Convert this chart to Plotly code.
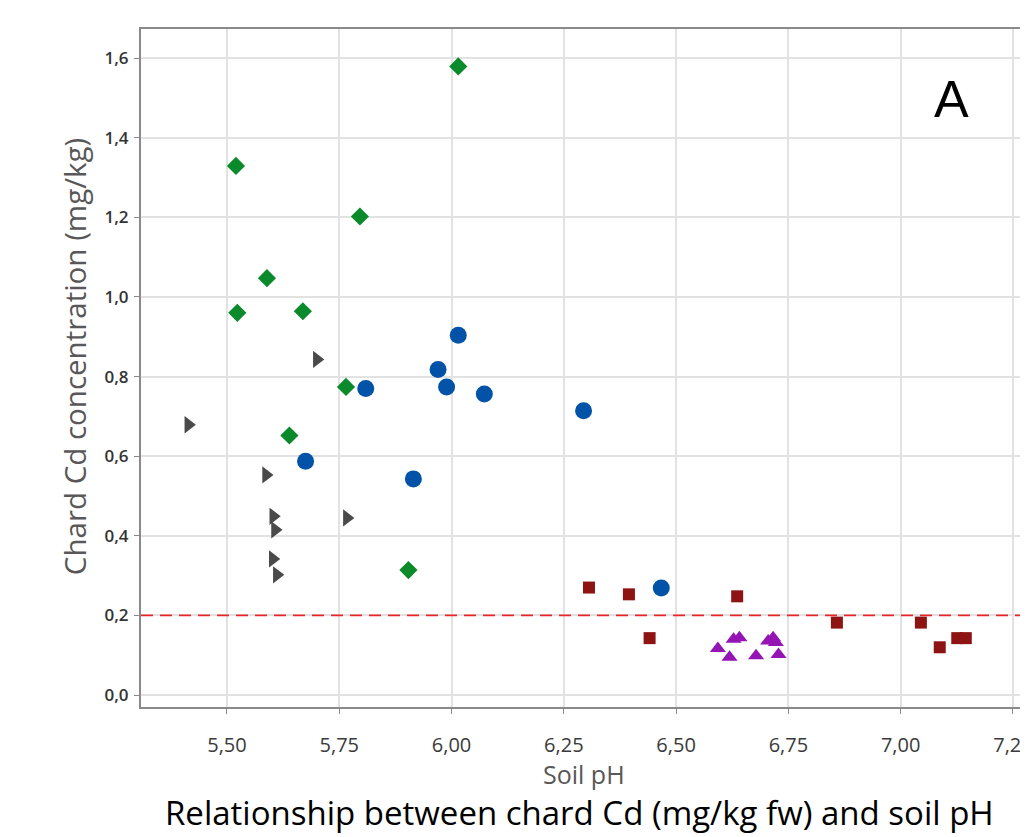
import plotly.graph_objects as go

# ---- data (soil pH, chard Cd mg/kg) ----
green_ph = [6.015, 5.520, 5.796, 5.589, 5.523, 5.669, 5.765, 5.639, 5.904]
green_cd = [1.579, 1.329, 1.202, 1.047, 0.960, 0.964, 0.774, 0.652, 0.314]

blue_ph = [6.015, 5.970, 5.989, 6.073, 5.809, 5.675, 5.915, 6.294, 6.467]
blue_cd = [0.904, 0.818, 0.774, 0.756, 0.770, 0.587, 0.543, 0.714, 0.269]

gray_ph = [5.700, 5.414, 5.587, 5.603, 5.767, 5.607, 5.602, 5.611]
gray_cd = [0.843, 0.679, 0.553, 0.449, 0.445, 0.415, 0.342, 0.302]

red_ph = [6.306, 6.395, 6.441, 6.636, 6.858, 7.045, 7.087, 7.126, 7.145]
red_cd = [0.270, 0.253, 0.143, 0.248, 0.182, 0.182, 0.120, 0.143, 0.143]

purple_ph = [6.593, 6.619, 6.628, 6.641, 6.678, 6.705, 6.716, 6.722, 6.728]
purple_cd = [0.117, 0.095, 0.140, 0.144, 0.099, 0.136, 0.144, 0.132, 0.102]

limit_cd = 0.2
x_ticks = [5.50, 5.75, 6.00, 6.25, 6.50, 6.75, 7.00, 7.25]
y_ticks = [0.0, 0.2, 0.4, 0.6, 0.8, 1.0, 1.2, 1.4, 1.6]

fig = go.Figure()

def add(xs, ys, symbol, color, size):
    fig.add_trace(go.Scatter(x=xs, y=ys, mode="markers",
                             marker=dict(symbol=symbol, color=color, size=size,
                                         line=dict(width=0)),
                             showlegend=False, cliponaxis=False))

add(green_ph, green_cd, "diamond", "#0b8a2c", 14)
add(blue_ph, blue_cd, "circle", "#0253a8", 17)
add(gray_ph, gray_cd, "triangle-right", "#4a4a4a", 15)
add(red_ph, red_cd, "square", "#8e1414", 12)
add(purple_ph, purple_cd, "triangle-up", "#9414b4", 14)

fig.add_shape(type="line", xref="paper", yref="y", x0=0, x1=1,
              y0=limit_cd, y1=limit_cd,
              line=dict(color="#e8262a", width=1.8, dash="12px,7px"))

FONT = "Open Sans, Noto Sans, sans-serif"

fig.update_xaxes(range=[5.3086, 7.2835], tickvals=x_ticks, tickformat=".2f",
                 showgrid=True, gridcolor="#e2e2e2", gridwidth=1.5,
                 showline=True, linecolor="#8a8a8a", linewidth=2, mirror=True,
                 ticks="outside", ticklen=5, tickcolor="#8a8a8a",
                 ticklabelstandoff=14, ticklabeloverflow="allow", automargin=False,
                 tickfont=dict(family=FONT, size=20, color="#3a3a3a"),
                 zeroline=False)
fig.update_yaxes(range=[-0.030, 1.673], tickvals=y_ticks, tickformat=".1f",
                 showgrid=True, gridcolor="#e2e2e2", gridwidth=1.5,
                 showline=True, linecolor="#8a8a8a", linewidth=2, mirror=False,
                 ticks="outside", ticklen=5, tickcolor="#8a8a8a",
                 ticklabelstandoff=2, automargin=False,
                 tickfont=dict(family=FONT, size=17, color="#333333", weight=600),
                 zeroline=False)

fig.add_annotation(text="Chard Cd concentration (mg/kg)", xref="paper", yref="paper",
                   x=-0.0755, y=0.516, textangle=-90, showarrow=False,
                   xanchor="center", yanchor="middle",
                   font=dict(family=FONT, size=29.5, color="#585858"))
fig.add_annotation(text="Soil pH", xref="paper", yref="paper",
                   x=0.4994, y=-0.0995, showarrow=False, xanchor="center", yanchor="middle",
                   font=dict(family=FONT, size=25, color="#585858"))
fig.add_annotation(text="Relationship between chard Cd (mg/kg fw) and soil pH",
                   xref="paper", yref="paper",
                   x=0.4938, y=-0.1563, showarrow=False, xanchor="center", yanchor="middle",
                   font=dict(family=FONT, size=33, color="#000000"))
fig.add_annotation(text="A", xref="paper", yref="paper",
                   x=0.9143, y=0.8968, showarrow=False, xanchor="center", yanchor="middle",
                   font=dict(family="Liberation Sans, Arial, sans-serif", size=52, color="#000000"))

# page body adds an 8px offset, so the figure is 8px smaller than the window
fig.update_layout(width=1020, height=829, separators=",.",
                  margin=dict(l=133, r=0, t=21, b=130, autoexpand=False),
                  plot_bgcolor="white", paper_bgcolor="white")

fig.write_html("out.html")
